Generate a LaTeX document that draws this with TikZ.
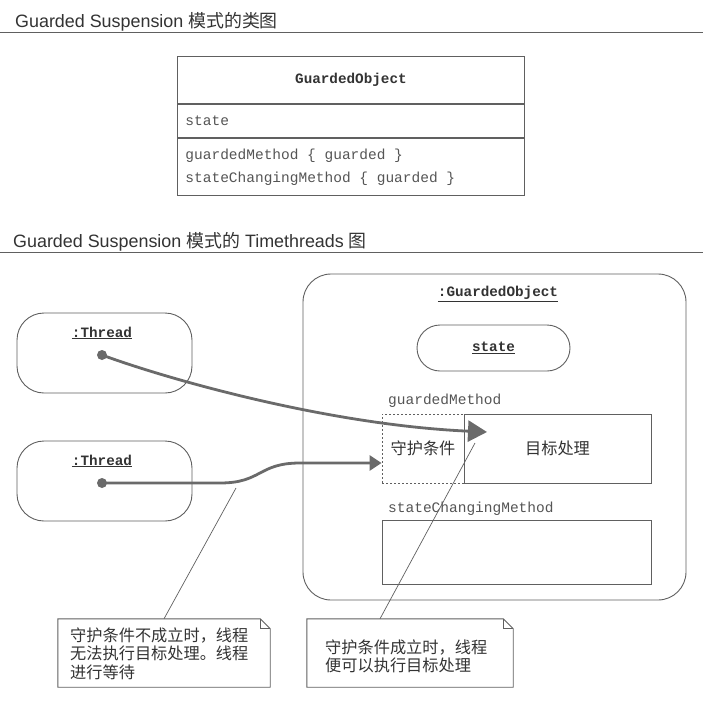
\documentclass[tikz,border=0pt]{standalone}
\usepackage{fontspec}
\setmainfont{Liberation Sans}
\setmonofont{Liberation Mono}
\newfontfamily\cjk{Noto Sans CJK SC}
\usetikzlibrary{arrows.meta}
\definecolor{lc}{HTML}{606060}
\definecolor{ac}{HTML}{6A6A6A}
\definecolor{tc}{HTML}{333333}
\definecolor{mc}{HTML}{555555}
\newcommand{\msp}{\hspace*{0.6em}}
\newcommand{\lbr}{\makebox[0.6em]{\char"7B}}
\newcommand{\rbr}{\makebox[0.6em]{\char"7D}}
\begin{document}
\begin{tikzpicture}[x=1pt,y=-1pt,
  header/.style={anchor=base west, inner sep=0pt, text=tc, font=\fontsize{17.9}{20}\selectfont},
  rule/.style={draw=lc, line width=1pt},
  box/.style={draw=lc, line width=0.9pt, inner sep=0pt},
  mono/.style={text=mc, font=\fontsize{14.5}{23}\selectfont\ttfamily},
  bmono/.style={text=tc, font=\fontsize{14.3}{17}\selectfont\ttfamily\bfseries},
  cjktext/.style={text=tc, font=\fontsize{16.2}{18.5}\selectfont\cjk},
  robj/.style={box, rounded corners=27pt},
  dot/.style={circle, fill=ac, inner sep=0pt, minimum size=10pt},
  flow/.style={draw=ac, line width=2.8pt},
  notebox/.style={inner sep=0pt},
  noteline/.style={draw=lc, line width=0.7pt}]
\useasboundingbox (0,0) rectangle (703,716);
\fill[white] (0,0) rectangle (703,716);

% ---- headers
\node[header] (h1) at (15,27) {Guarded Suspension {\cjk 模式的类图}};
\coordinate (r1a) at (0,32); \coordinate (r1b) at (703,32);
\draw[rule] (r1a) -- (r1b);
\node[header] (h2) at (13,247) {Guarded Suspension {\cjk 模式的} Timethreads {\cjk 图}};
\coordinate (r2a) at (0,252); \coordinate (r2b) at (703,252);
\draw[rule] (r2a) -- (r2b);

% ---- class diagram
\node[box, minimum width=347pt, minimum height=47pt, anchor=north west, bmono] (cn) at (177,56) {GuardedObject};
\node[box, minimum height=33pt, text width=331pt, inner xsep=8pt, align=left, anchor=north west, mono] (ca) at (cn.south west) {state};
\node[box, minimum height=57pt, text width=331pt, inner xsep=8pt, align=left, anchor=north west, mono] (co) at (ca.south west) {guardedMethod\msp\lbr\msp guarded\msp\rbr\\stateChangingMethod\msp\lbr\msp guarded\msp\rbr};

% ---- threads
\node[robj, minimum width=175pt, minimum height=80pt] (t1) at (104.5,353) {};
\node[bmono] (t1l) at (102,333) {\underline{:Thread}};
\node[dot] (d1) at (102,355) {};
\node[robj, minimum width=175pt, minimum height=80pt] (t2) at (104.5,481) {};
\node[bmono] (t2l) at (102,461) {\underline{:Thread}};
\node[dot] (d2) at (102,483) {};

% ---- guarded object
\node[robj, rounded corners=28pt, minimum width=383pt, minimum height=326pt] (go) at (494.5,437) {};
\node[bmono] (gol) at (498,294) {\underline{:GuardedObject}};
\node[box, rounded corners=23pt, minimum width=153pt, minimum height=46pt, bmono] (st) at (493.5,348) {\underline{state}};
\node[mono, anchor=west, inner sep=0pt] (gml) at (388,401) {guardedMethod};
\node[draw=lc, line width=0.8pt, dash pattern=on 2pt off 2pt, inner sep=0pt, minimum width=82pt, minimum height=69pt, cjktext] (guard) at (423,448.5) {守护条件};
\node[box, minimum width=187pt, minimum height=69pt, cjktext] (target) at (557.5,448.5) {目标处理};
\node[mono, anchor=west, inner sep=0pt] (scl) at (388,509) {stateChangingMethod};
\node[box, minimum width=269pt, minimum height=64pt] (sc) at (516.5,552) {};

% ---- flows
\coordinate (tip1) at (487,432);
\draw[flow, -{Triangle[length=19pt,width=21pt]}] (d1.center) .. controls (170,380) and (330,425) .. (tip1);
\draw[flow, -{Triangle[length=12pt,width=15pt]}] (d2.center) -- (220,483) .. controls (262,483) and (258,463) .. (300,463) -- ([yshift=-14.5pt]guard.west);

% ---- notes
\node[notebox, minimum width=212pt, minimum height=68pt] (n1) at (164,653) {};
\draw[box] (n1.north west) -- ([xshift=-10pt]n1.north east) -- ([yshift=-10pt]n1.north east) -- (n1.south east) -- (n1.south west) -- cycle;
\draw[box] ([xshift=-10pt]n1.north east) -- ([xshift=-10pt,yshift=-10pt]n1.north east) -- ([yshift=-10pt]n1.north east);
\node[cjktext, anchor=west, align=left, inner sep=0pt] (n1t) at (70,653.5) {守护条件不成立时，线程\\无法执行目标处理。线程\\进行等待};

\node[notebox, minimum width=206pt, minimum height=68pt] (n2) at (410,653) {};
\draw[box] (n2.north west) -- ([xshift=-10pt]n2.north east) -- ([yshift=-10pt]n2.north east) -- (n2.south east) -- (n2.south west) -- cycle;
\draw[box] ([xshift=-10pt]n2.north east) -- ([xshift=-10pt,yshift=-10pt]n2.north east) -- ([yshift=-10pt]n2.north east);
\node[cjktext, anchor=west, align=left, inner sep=0pt] (n2t) at (325,656.5) {守护条件成立时，线程\\便可以执行目标处理};

\coordinate (c1) at (236,488);
\coordinate (c2) at (475,443);
\draw[noteline] (n1.north) -- (c1);
\draw[noteline] ([xshift=-30pt]n2.north) -- (c2);
\end{tikzpicture}
\end{document}
